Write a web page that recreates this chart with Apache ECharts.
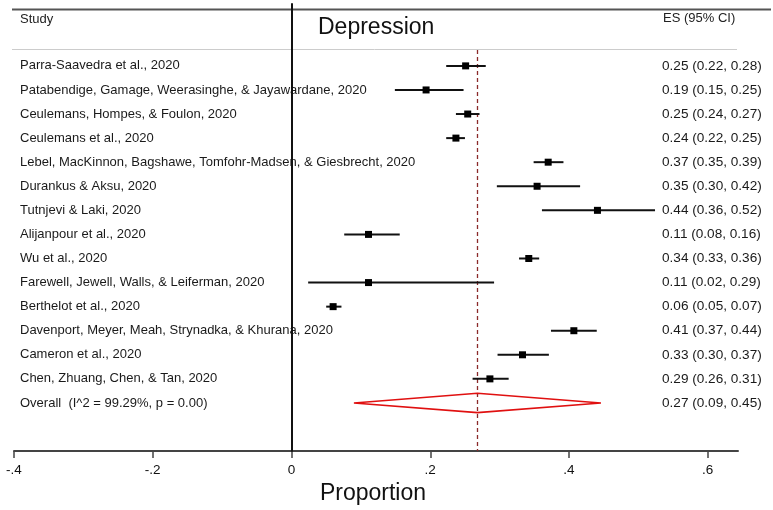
<!DOCTYPE html>
<html><head><meta charset="utf-8">
<script src="https://cdn.jsdelivr.net/npm/echarts@6/dist/echarts.min.js"></script>
<style>html,body{margin:0;padding:0;background:#fff}#c{width:773px;height:510px}</style>
</head><body><div id="c"></div>
<script>
const studies = [
  'Parra-Saavedra et al., 2020',
  'Patabendige, Gamage, Weerasinghe, & Jayawardane, 2020',
  'Ceulemans, Hompes, & Foulon, 2020',
  'Ceulemans et al., 2020',
  'Lebel, MacKinnon, Bagshawe, Tomfohr-Madsen, & Giesbrecht, 2020',
  'Durankus & Aksu, 2020',
  'Tutnjevi & Laki, 2020',
  'Alijanpour et al., 2020',
  'Wu et al., 2020',
  'Farewell, Jewell, Walls, & Leiferman, 2020',
  'Berthelot et al., 2020',
  'Davenport, Meyer, Meah, Strynadka, & Khurana, 2020',
  'Cameron et al., 2020',
  'Chen, Zhuang, Chen, & Tan, 2020'
];
const estimates = [0.251, 0.194, 0.254, 0.237, 0.370, 0.354, 0.441, 0.111, 0.342, 0.111, 0.060, 0.407, 0.333, 0.286];
const ciLower   = [0.223, 0.149, 0.237, 0.223, 0.349, 0.296, 0.361, 0.076, 0.328, 0.024, 0.050, 0.374, 0.297, 0.261];
const ciUpper   = [0.280, 0.248, 0.271, 0.250, 0.392, 0.416, 0.524, 0.156, 0.357, 0.292, 0.072, 0.440, 0.371, 0.313];
const overallLabel = 'Overall  (I^2 = 99.29%, p = 0.00)';
const overallES = [0.268];
const overallLower = [0.090];
const overallUpper = [0.446];
const xTicks = [-0.4, -0.2, 0, 0.2, 0.4, 0.6];
const xTickLabels = ['-.4', '-.2', '0', '.2', '.4', '.6'];
const plotTitle = 'Depression';
const xAxisTitle = 'Proportion';
const studyHeader = 'Study';
const esHeader = 'ES (95% CI)';

const FONT = "'Liberation Sans', Arial, sans-serif";
const fmt = v => v.toFixed(2);
const esText = (e, l, h) => fmt(e) + ' (' + fmt(l) + ', ' + fmt(h) + ')';

const studyData = studies.map((s, i) => [estimates[i], i + 1, ciLower[i], ciUpper[i]]);
const overallRow = studies.length + 1;
const overallData = [[overallES[0], overallRow, overallLower[0], overallUpper[0]]];

const chart = echarts.init(document.getElementById('c'), null, {renderer: 'canvas'});
chart.setOption({
  animation: false,
  backgroundColor: '#fff',
  grid: {left: 14, right: 35, top: 4, bottom: 58, containLabel: false},
  xAxis: {
    type: 'value', min: -0.4, max: 0.6436,
    splitLine: {show: false},
    axisLine: {onZero: false, lineStyle: {color: '#444', width: 2}},
    axisTick: {show: true, length: 7, customValues: xTicks, lineStyle: {color: '#444', width: 1.5}},
    axisLabel: {
      customValues: xTicks, margin: 12, color: '#111', fontSize: 13.5, fontFamily: FONT,
      formatter: v => { const i = xTicks.findIndex(t => Math.abs(t - v) < 1e-6); return i >= 0 ? xTickLabels[i] : ''; }
    },
    name: xAxisTitle, nameLocation: 'middle', nameGap: 23,
    nameTextStyle: {fontSize: 23, color: '#111', fontFamily: FONT, padding: [0, 6, 0, 0]}
  },
  yAxis: {
    type: 'value', min: -1.57, max: 17, inverse: true, z: 10,
    splitLine: {show: false},
    axisLine: {show: true, onZero: true, lineStyle: {color: '#111', width: 2}},
    axisTick: {show: false}, axisLabel: {show: false}
  },
  graphic: [
    {type: 'line', shape: {x1: 12, y1: 9.5, x2: 771, y2: 9.5}, style: {stroke: '#555', lineWidth: 2}},
    {type: 'line', shape: {x1: 12, y1: 49.5, x2: 737, y2: 49.5}, style: {stroke: '#ccc', lineWidth: 1}},
    {type: 'text', x: 20, y: 19, style: {text: studyHeader, font: '13px ' + FONT, fill: '#222', verticalAlign: 'middle'}},
    {type: 'text', x: 663, y: 18, style: {text: esHeader, font: '13px ' + FONT, fill: '#222', verticalAlign: 'middle'}},
    {type: 'text', x: 318, y: 28, style: {text: plotTitle, font: '23px ' + FONT, fill: '#111', verticalAlign: 'middle'}}
  ],
  series: [
    {
      type: 'custom', name: 'ref', z: 1,
      data: [[overallES[0], 0.34, overallES[0], 17]],
      encode: {x: 0, y: 1},
      renderItem: (params, api) => {
        const a = api.coord([api.value(0), api.value(1)]);
        const b = api.coord([api.value(2), api.value(3)]);
        const x = Math.round(a[0]) + 0.5;
        return {type: 'line', shape: {x1: x, y1: a[1], x2: x, y2: b[1]},
          style: {stroke: '#8b2a2a', lineWidth: 1.3, lineDash: [4, 3]}};
      }
    },
    {
      type: 'custom', name: 'studies', z: 3,
      data: studyData,
      encode: {x: 0, y: 1},
      renderItem: (params, api) => {
        const i = params.dataIndex;
        const p = api.coord([api.value(0), api.value(1)]);
        const l = api.coord([api.value(2), api.value(1)]);
        const h = api.coord([api.value(3), api.value(1)]);
        const s = 7;
        return {type: 'group', children: [
          {type: 'line', shape: {x1: l[0], y1: p[1], x2: h[0], y2: p[1]}, style: {stroke: '#111', lineWidth: 2}},
          {type: 'rect', shape: {x: p[0] - s / 2, y: p[1] - s / 2, width: s, height: s}, style: {fill: '#000'}},
          {type: 'text', style: {text: studies[i], x: 20, y: p[1], verticalAlign: 'middle', font: '13px ' + FONT, fill: '#1a1a1a'}},
          {type: 'text', style: {text: esText(api.value(0), api.value(2), api.value(3)), x: 662, y: p[1], verticalAlign: 'middle', font: '13.6px ' + FONT, fill: '#1a1a1a'}}
        ]};
      }
    },
    {
      type: 'custom', name: 'overall', z: 3,
      data: overallData,
      encode: {x: 0, y: 1},
      renderItem: (params, api) => {
        const row = api.value(1);
        const c = api.coord([api.value(0), row]);
        const top = api.coord([api.value(0), row - 0.4]);
        const bot = api.coord([api.value(0), row + 0.4]);
        const l = api.coord([api.value(2), row]);
        const h = api.coord([api.value(3), row]);
        return {type: 'group', children: [
          {type: 'polygon', shape: {points: [[l[0], c[1]], [top[0], top[1]], [h[0], c[1]], [bot[0], bot[1]]]},
            style: {fill: 'none', stroke: '#e01010', lineWidth: 1.6}},
          {type: 'text', style: {text: overallLabel, x: 20, y: c[1], verticalAlign: 'middle', font: '13px ' + FONT, fill: '#1a1a1a'}},
          {type: 'text', style: {text: esText(api.value(0), api.value(2), api.value(3)), x: 662, y: c[1], verticalAlign: 'middle', font: '13.6px ' + FONT, fill: '#1a1a1a'}}
        ]};
      }
    }
  ]
});
</script></body></html>
